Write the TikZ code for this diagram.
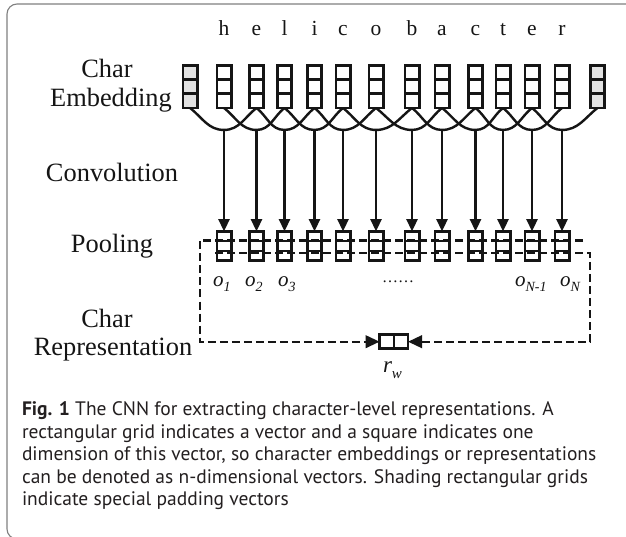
\documentclass[tikz,border=0pt]{standalone}
\usepackage{fontspec}
\setmainfont{Liberation Serif}
\newfontfamily\capfont{PT Sans}
\usetikzlibrary{arrows.meta,calc}
\definecolor{ink}{HTML}{151515}
\definecolor{shade}{HTML}{E2E2E2}
\definecolor{framecol}{HTML}{808080}
\definecolor{captxt}{HTML}{231F20}
\newcommand\osub[1]{\raisebox{-5pt}{\fontsize{14}{14}\selectfont #1}}
\begin{document}
\begin{tikzpicture}[x=1pt,y=-1pt,
  every node/.style={inner sep=0pt,outer sep=0pt},
  vecbox/.style={draw=ink,line width=2.7pt,minimum width=14.3pt},
  embbox/.style={vecbox,minimum height=42.7pt},
  poolbox/.style={vecbox,minimum height=29.3pt},
  cellline/.style={draw=ink,line width=2.5pt},
  conn/.style={draw=ink,line width=2.4pt},
  arr/.style={draw=ink,line width=2.3pt,-{Triangle[length=12pt,width=11pt]}},
  dashline/.style={draw=ink,line width=2.4pt,dash pattern=on 8pt off 4pt,-{Triangle[length=14pt,width=12.5pt]}},
  lab/.style={font=\fontsize{26.4}{29}\selectfont,text=ink},
  letter/.style={font=\fontsize{21.5}{24}\selectfont,text=ink},
  olab/.style={font=\fontsize{21}{24}\selectfont\itshape,text=ink},
  captext/.style={text=captxt}
]
\useasboundingbox (0,0) rectangle (626,537);
\clip (0,0) rectangle (626,537);
\fill[white] (0,0) rectangle (626,537);
\draw[framecol,line width=1.1pt,rounded corners=10pt] (7,4) rectangle (690,539);

% side labels
\node[lab,anchor=base] (l1) at (107,78) {Char};
\node[lab,anchor=base] (l2) at (111,107) {Embedding};
\node[lab,anchor=base] (l3) at (112,182) {Convolution};
\node[lab,anchor=base] (l4) at (112,253) {Pooling};
\node[lab,anchor=base] (l5) at (107,327) {Char};
\node[lab,anchor=base] (l6) at (113,355) {Representation};

% embedding boxes
\foreach \x/\f [count=\i from 0] in {190/shade,224/white,256.5/white,284.5/white,314.5/white,343/white,376/white,412/white,442/white,475.5/white,503/white,532/white,562/white,597.5/shade}{
  \node[embbox,fill=\f] (e\i) at (\x,86.6) {};
  \draw[cellline] ($(e\i.north west)!0.3333!(e\i.south west)$) -- ($(e\i.north east)!0.3333!(e\i.south east)$);
  \draw[cellline] ($(e\i.north west)!0.6667!(e\i.south west)$) -- ($(e\i.north east)!0.6667!(e\i.south east)$);
}

% letters
\foreach \x/\c [count=\i] in {224/h,256.5/e,284.5/l,314.5/i,343/c,376/o,412/b,442/a,475.5/c,503/t,532/e,562/r}{
  \node[letter,anchor=base] (t\i) at (\x,36) {\c};
}

% pooling boxes
\foreach \x [count=\i] in {224,256.5,284.5,314.5,343,376,412,442,475.5,503,532,562}{
  \node[poolbox] (p\i) at (\x,245.9) {};
  \draw[cellline] ($(p\i.north west)!0.3333!(p\i.south west)$) -- ($(p\i.north east)!0.3333!(p\i.south east)$);
  \draw[cellline] ($(p\i.north west)!0.6667!(p\i.south west)$) -- ($(p\i.north east)!0.6667!(p\i.south east)$);
}

% convolution connectors
\foreach \i in {1,...,12}{
  \pgfmathtruncatemacro\a{\i-1}
  \pgfmathtruncatemacro\b{\i+1}
  \coordinate (u\i) at ($(e\i.south)+(0,22)$);
  \draw[conn] (e\a.south) to[out=-38,in=180] (u\i) to[out=0,in=-142] (e\b.south);
  \draw[arr] (u\i) -- (p\i.north);
}

% representation box
\node[vecbox,minimum width=28.4pt,minimum height=14.1pt] (rw) at (393.8,341.7) {};
\draw[cellline] (rw.north) -- (rw.south);

% dashed pooling paths
\coordinate (dl1) at (583,240.5);
\coordinate (dl2) at (200,240.5);
\coordinate (dl3) at (200,341.7);
\coordinate (dr1) at (215,253);
\coordinate (dr2) at (590,253);
\coordinate (dr3) at (590,341.7);
\draw[dashline] (dl1) -- (dl2) -- (dl3) -- (rw.west);
\draw[dashline] (dr1) -- (dr2) -- (dr3) -- (rw.east);

% output labels
\node[olab,anchor=base west] (o1) at (213,287) {o\osub{1}};
\node[olab,anchor=base west] (o2) at (245,287) {o\osub{2}};
\node[olab,anchor=base west] (o3) at (278,287) {o\osub{3}};
\node[anchor=base,font=\fontsize{16}{18}\selectfont,text=ink] (dots) at (398,282) {……};
\node[olab,anchor=base west] (o4) at (515,287) {o\osub{N-1}};
\node[olab,anchor=base west] (o5) at (560,287) {o\osub{N}};
\node[olab,anchor=base west,font=\fontsize{23}{26}\selectfont\itshape] (rwl) at (383,372) {r\raisebox{-6pt}{\fontsize{15}{15}\selectfont w}};

% caption
\begin{scope}[every node/.append style={font=\capfont\fontsize{19.5}{22}\selectfont}]
\node[captext,anchor=base west] (c1) at (22,415) {\textbf{Fig. 1} The CNN for extracting character-level representations. A};
\node[captext,anchor=base west] (c2) at (22,438) {rectangular grid indicates a vector and a square indicates one};
\node[captext,anchor=base west] (c3) at (22,460) {dimension of this vector, so character embeddings or representations};
\node[captext,anchor=base west] (c4) at (22,483) {can be denoted as n-dimensional vectors. Shading rectangular grids};
\node[captext,anchor=base west] (c5) at (22,505) {indicate special padding vectors};
\end{scope}
\end{tikzpicture}
\end{document}
